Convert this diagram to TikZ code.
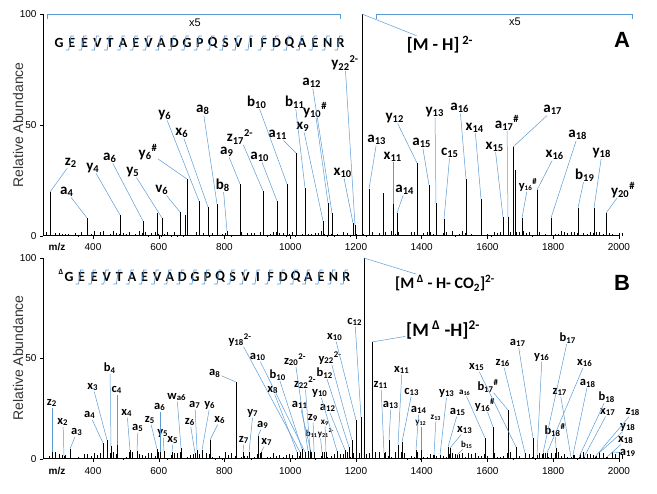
\documentclass[tikz,border=0pt]{standalone}
\usepackage{fontspec}
\setmainfont{Carlito}
\setsansfont{Liberation Sans}
\definecolor{leadblue}{RGB}{91,155,213}
\newcommand\frag[3]{#1\textsubscript{#2}\textsuperscript{#3}}
\begin{document}
\begin{tikzpicture}[x=1pt,y=-1pt]
	\tikzstyle{peak}=[line width=0.7pt]
	\tikzstyle{lead}=[draw=leadblue,line width=0.5pt]
	\tikzstyle{lblA}=[font=\bfseries\fontsize{15}{15}\selectfont,inner sep=0.5pt]
	\tikzstyle{lblB}=[font=\bfseries\fontsize{12.5}{12.5}\selectfont,inner sep=0.5pt]
	\tikzstyle{tick}=[font=\sffamily\fontsize{10}{10}\selectfont]
	\tikzstyle{seq}=[font=\bfseries\fontsize{14}{14}\selectfont,inner sep=0pt]
	\useasboundingbox (0,0) rectangle (657,494);
	% axes
	\draw[line width=1pt] (43,14) -- (43,236) -- (620,236);
	\draw[line width=1pt] (43,258) -- (43,459) -- (620,459);
	\foreach \y/\t in {14/100,125/50,236/0} {
		\draw (40,\y) -- (43,\y);
		\node[tick,anchor=east] (ya\t) at (40,\y) {\t};
	}
	\foreach \y/\t in {258/100,358/50,459/0} {
		\draw (40,\y) -- (43,\y);
		\node[tick,anchor=east] (yb\t) at (40,\y) {\t};
	}
	\foreach \m in {400,600,...,2000} {
		\draw (93+\m*0.3287-131.5,236) -- ++(0,3);
		\node[tick] (xa\m) at (93+\m*0.3287-131.5,247) {\m};
		\draw (93+\m*0.3287-131.5,459) -- ++(0,3);
		\node[tick] (xb\m) at (93+\m*0.3287-131.5,471) {\m};
	}
	\node[tick,font=\sffamily\bfseries\fontsize{10}{10}\selectfont] (mza) at (57,247) {m/z};
	\node[tick,font=\sffamily\bfseries\fontsize{10}{10}\selectfont] (mzb) at (57,471) {m/z};
	\node[rotate=90,font=\sffamily\fontsize{14}{14}\selectfont,text=black!80] (rela) at (18,125) {Relative Abundance};
	\node[rotate=90,font=\sffamily\fontsize{14}{14}\selectfont,text=black!80] (relb) at (18,358) {Relative Abundance};
	\node[font=\sffamily\bfseries\fontsize{22}{22}\selectfont] (panA) at (622,40) {A};
	\node[font=\sffamily\bfseries\fontsize{22}{22}\selectfont] (panB) at (622,283) {B};
	% x5 brackets
	\draw[lead,line width=0.8pt] (47,19) -- (47,14) -- (340,14) -- (340,19);
	\draw[lead,line width=0.8pt] (376,19) -- (376,14) -- (632,14) -- (632,19);
	\node[tick,font=\sffamily\fontsize{11}{11}\selectfont] (x5a) at (195,23) {x5};
	\node[tick,font=\sffamily\fontsize{11}{11}\selectfont] (x5b) at (515,22) {x5};
	% sequences
	\foreach \l [count=\i from 0] in {G,E,E,V,T,A,E,V,A,D,G,P,Q,S,V,I,F,D,Q,A,E,N,R} {
		\node[seq] (sa\i) at (59+\i*12.8,43) {\l};
		\node[seq] (sb\i) at (69+\i*12.6,277) {\l};
	}
	\node[seq,font=\bfseries\fontsize{8}{8}\selectfont] (delta) at (61,272) {Δ};
	\foreach \i in {1,...,22} {
		\draw[lead,line width=0.7pt] (53+\i*12.8,50) -- (56+\i*12.8,50) -- (58+\i*12.8,36) -- (61+\i*12.8,36);
		\draw[lead,line width=0.7pt] (63+\i*12.6,284) -- (66+\i*12.6,284) -- (68+\i*12.6,270) -- (71+\i*12.6,270);
	}
	% baseline noise
	\pgfmathsetseed{7}
	\foreach \i in {0,...,180} {
		\pgfmathsetmacro\ha{rnd*5}
		\pgfmathsetmacro\hb{rnd*7}
		\draw[peak,line width=0.4pt] ({46+\i*3.2},236) -- ++(0,-\ha);
		\draw[peak,line width=0.4pt] ({46+\i*3.2},459) -- ++(0,-\hb);
	}
	% peaks, panel A
	\foreach \n/\x/\y in {z2/50/192,a4/87/218,y4/120/215,a6/143/221,q1/157/213,y5/162/218,v6/180/212,q2/185/215,
		y6h/187/179,y6/199/201,x6/208/207,a8/217/204,b8/227/231,a9/240/184,z17/263/191,a10/277/201,b10/287/184,
		a11/296/153,b11/305/188,x9/323/221,y10h/328/203,a12/332/213,x10/353/223,y22/355/225,M/362/14,a13/369/189,
		q3/383/193,x11/393/204,a14/397/213,y12/417/163,a15/429/185,y13/436/203,c15/444/219,a16/466/179,x14/481/199,
		x15/503/217,a17h/508/217,a17/513/147,q4/515/170,y16h/522/218,x16/537/190,a18/551/218,b19/578/208,y18/594/208,y20h/606/213}
		\draw[peak] (\x,236) -- (\x,\y) coordinate (pA-\n);
	% labels, panel A
	\foreach \n/\x/\y/\t in {a4/67/192/{\frag{a}{4}{}},z2/71/163/{\frag{z}{2}{}},y4/93/168/{\frag{y}{4}{}},
		a6/110/158/{\frag{a}{6}{}},y5/133/172/{\frag{y}{5}{}},v6/162/190/{\frag{v}{6}{}},y6h/148/152/{\frag{y}{6}{\#}},
		y6/165/115/{\frag{y}{6}{}},x6/182/133/{\frag{x}{6}{}},a8/203/110/{\frag{a}{8}{}},a9/227/152/{\frag{a}{9}{}},
		b8/223/185/{\frag{b}{8}{}},z17/240/137/{\frag{z}{17}{2-}},a10/260/157/{\frag{a}{10}{}},b10/257/102/{\frag{b}{10}{}},
		a11/278/135/{\frag{a}{11}{}},b11/295/102/{\frag{b}{11}{}},a12/312/83/{\frag{a}{12}{}},x9/303/127/{\frag{x}{9}{}},
		y10h/315/110/{\frag{y}{10}{\#}},x10/343/173/{\frag{x}{10}{}},y22/345/63/{\frag{y}{22}{2-}},a13/377/140/{\frag{a}{13}{}},
		x11/393/157/{\frag{x}{11}{}},a14/405/190/{\frag{a}{14}{}},y12/395/118/{\frag{y}{12}{}},a15/422/143/{\frag{a}{15}{}},
		y13/435/112/{\frag{y}{13}{}},c15/450/153/{\frag{c}{15}{}},a16/460/108/{\frag{a}{16}{}},x14/475/128/{\frag{x}{14}{}},
		x15/495/147/{\frag{x}{15}{}},a17h/507/123/{\frag{a}{17}{\#}},a17/553/110/{\frag{a}{17}{}},x16/555/155/{\frag{x}{16}{}},
		a18/578/135/{\frag{a}{18}{}},y18/602/153/{\frag{y}{18}{}},b19/585/175/{\frag{b}{19}{}},y20h/623/190/{\frag{y}{20}{\#}}}
		\node[lblA] (lA-\n) at (\x,\y) {\t};
	\node[lblB] (lA-y16h) at (528,185) {\frag{y}{\scriptsize 16}{\#}};
	\node[lblA,font=\bfseries\fontsize{18}{18}\selectfont] (lA-M) at (440,45) {[M - H]\,\textsuperscript{2-}};
	\foreach \n in {a4,z2,y4,a6,y5,v6,y6h,y6,x6,a8,a9,b8,z17,a10,b10,a11,b11,a12,x9,y10h,x10,y22,a13,x11,a14,y12,a15,
		y13,c15,a16,x14,x15,a17h,a17,y16h,x16,a18,y18,b19,y20h,M}
		\draw[lead] (lA-\n) -- (pA-\n);
	% peaks, panel B
	\foreach \n/\x/\y in {z2/52/452,x2/64/456,a3/70/449,a4/103/443,x3/107/440,b4/111/446,c4/117/445,x4/130/450,
		a5/137/451,z5/157/449,a6/160/452,y5/164/451,x5/172/452,wa6/181/448,z6/195/453,a7/197/450,y6/202/450,x6/210/440,
		a8/236/382,z7/243/452,y7/249/452,a9/258/436,x7/261/452,y18d/300/452,a10/305/452,z20/308/451,b10/302/449,
		x8/297/452,z22/310/450,b12/349/447,y22/352/440,y10/337/451,a11/311/452,z9/314/452,a12/345/450,x9/326/452,
		b11/322/452,x10/356/420,c12/361/417,mc/364/258,mh/372/342,z11/384/453,x11/398/445,c13/402/442,a13/389/440,
		a14/416/450,y12/421/450,z13/434/455,y13/440/455,a16/485/438,a15/448/447,x13/450/448,b15/457/455,y16h/493/427,
		b17h/508/410,x15/516/447,z16/525/453,a17/533/438,y16/537/455,b17/543/453,x16/547/453,z17/571/457,a18/573/455,
		b18/579/457,x17/584/457,z18/595/457,y18/599/453,x18/607/457,a19/612/452,b18h/556/448}
		\draw[peak] (\x,459) -- (\x,\y) coordinate (pB-\n);
	% labels, panel B
	\foreach \n/\x/\y/\t in {z2/52/403/{\frag{z}{2}{}},x2/63/422/{\frag{x}{2}{}},a3/77/432/{\frag{a}{3}{}},
		a4/90/415/{\frag{a}{4}{}},x3/93/387/{\frag{x}{3}{}},b4/110/368/{\frag{b}{4}{}},c4/117/390/{\frag{c}{4}{}},
		x4/127/413/{\frag{x}{4}{}},a5/138/428/{\frag{a}{5}{}},z5/150/420/{\frag{z}{5}{}},a6/160/407/{\frag{a}{6}{}},
		y5/163/433/{\frag{y}{5}{}},x5/173/440/{\frag{x}{5}{}},wa6/177/397/{\frag{w}{a6}{}},z6/190/422/{\frag{z}{6}{}},
		a7/195/405/{\frag{a}{7}{}},y6/210/405/{\frag{y}{6}{}},x6/220/420/{\frag{x}{6}{}},a8/215/373/{\frag{a}{8}{}},
		z7/244/440/{\frag{z}{7}{}},y7/253/413/{\frag{y}{7}{}},a9/263/425/{\frag{a}{9}{}},x7/267/442/{\frag{x}{7}{}},
		y18d/240/340/{\frag{y}{18}{2-}},a10/258/357/{\frag{a}{10}{}},z20/295/360/{\frag{z}{20}{2-}},b10/278/375/{\frag{b}{10}{}},
		x8/273/390/{\frag{x}{8}{}},z22/305/383/{\frag{z}{22}{2-}},b12/325/373/{\frag{b}{12}{}},y22/330/358/{\frag{y}{22}{2-}},
		y10/320/393/{\frag{y}{10}{}},a11/300/405/{\frag{a}{11}{}},z9/313/418/{\frag{z}{9}{}},a12/328/408/{\frag{a}{12}{}},
		x10/335/337/{\frag{x}{10}{}},c12/355/322/{\frag{c}{12}{}},z11/381/385/{\frag{z}{11}{}},x11/402/370/{\frag{x}{11}{}},
		c13/412/392/{\frag{c}{13}{}},a13/391/405/{\frag{a}{13}{}},a14/419/410/{\frag{a}{14}{}},y13/447/393/{\frag{y}{13}{}},
		a15/458/412/{\frag{a}{15}{}},x13/465/430/{\frag{x}{13}{}},x15/477/367/{\frag{x}{15}{}},z16/503/363/{\frag{z}{16}{}},
		a17/518/343/{\frag{a}{17}{}},y16/542/357/{\frag{y}{16}{}},b17/568/338/{\frag{b}{17}{}},x16/585/363/{\frag{x}{16}{}},
		z17/560/392/{\frag{z}{17}{}},a18/588/383/{\frag{a}{18}{}},b18/607/397/{\frag{b}{18}{}},x17/608/412/{\frag{x}{17}{}},
		z18/633/412/{\frag{z}{18}{}},y18/628/427/{\frag{y}{18}{}},x18/626/440/{\frag{x}{18}{}},a19/628/453/{\frag{a}{19}{}},
		b18h/555/430/{\frag{b}{18}{\#}},b17h/488/386/{\frag{b}{17}{\#}},y16h/485/405/{\frag{y}{16}{\#}}}
		\node[lblB] (lB-\n) at (\x,\y) {\t};
	\foreach \n/\x/\y/\t in {x9/325/423/{\frag{x}{9}{}},b11/320/433/{\frag{b}{11}{}\frag{y}{21}{2-}},
		y12/421/423/{\frag{y}{12}{}},z13/436/418/{\frag{z}{13}{}},a16/465/393/{\frag{a}{16}{}},b15/467/445/{\frag{b}{15}{}}}
		\node[lblB,font=\bfseries\fontsize{9}{9}\selectfont] (lB-\n) at (\x,\y) {\t};
	\node[lblA,font=\bfseries\fontsize{16}{16}\selectfont] (lB-mc) at (445,283) {[M\,\textsuperscript{Δ} - H- CO\textsubscript{2}]\textsuperscript{2-}};
	\node[lblA,font=\bfseries\fontsize{19}{19}\selectfont] (lB-mh) at (443,330) {[M\,\textsuperscript{Δ} -H]\textsuperscript{2-}};
	\foreach \n in {z2,x2,a3,a4,x3,b4,c4,x4,a5,z5,a6,y5,x5,wa6,z6,a7,y6,x6,a8,z7,y7,a9,x7,y18d,a10,z20,b10,x8,z22,b12,
		y22,y10,a11,z9,a12,x9,b11,x10,c12,mc,mh,z11,x11,c13,a13,a14,y12,z13,y13,a16,a15,x13,b15,y16h,b17h,x15,z16,a17,
		y16,b17,x16,z17,a18,b18,x17,z18,y18,x18,a19,b18h}
		\draw[lead] (lB-\n) -- (pB-\n);
\end{tikzpicture}
\end{document}
